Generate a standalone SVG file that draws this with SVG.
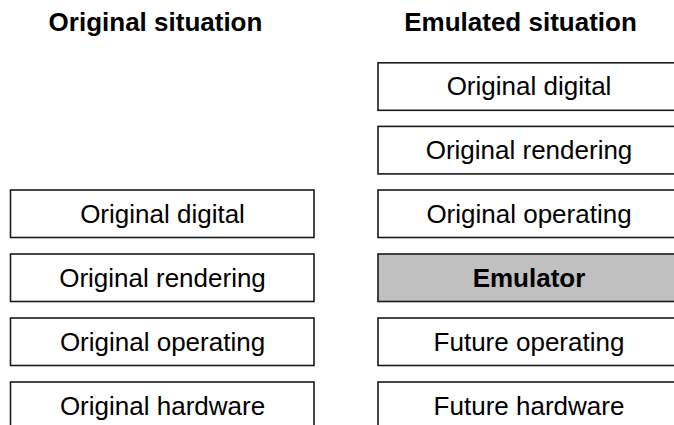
<svg xmlns="http://www.w3.org/2000/svg" width="674" height="425" viewBox="0 0 674 425">
  <style>
    .title { font-family: "Liberation Sans", Arial, sans-serif; font-weight: bold; font-size: 26px; fill: #000; text-anchor: middle; }
    .box { fill: #fff; stroke: #1a1a1a; stroke-width: 1.6; }
    .box.emu { fill: #c0c0c0; }
    .lbl { font-family: "Liberation Sans", Arial, sans-serif; font-size: 26px; fill: #000; text-anchor: middle; }
    .lbl.b { font-weight: bold; }
  </style>
  <rect width="674" height="425" fill="#fff"/>

  <!-- column headings -->
  <text class="title" x="155.5" y="31">Original situation</text>
  <text class="title" x="520.5" y="31">Emulated situation</text>

  <!-- original stack -->
  <g id="orig-digital"><rect class="box" x="10.5" y="190" width="303.5" height="47.5"/><text class="lbl" x="162.5" y="222.5">Original digital</text></g>
  <g id="orig-rendering"><rect class="box" x="10.5" y="254" width="303.5" height="47.5"/><text class="lbl" x="162.5" y="286.5">Original rendering</text></g>
  <g id="orig-operating"><rect class="box" x="10.5" y="318" width="303.5" height="47.5"/><text class="lbl" x="162.5" y="350.5">Original operating</text></g>
  <g id="orig-hardware"><rect class="box" x="10.5" y="382" width="303.5" height="47.5"/><text class="lbl" x="162.5" y="414.5">Original hardware</text></g>

  <!-- emulated stack -->
  <g id="emu-digital"><rect class="box" x="378" y="62.8" width="310" height="47.5"/><text class="lbl" x="529" y="95.3">Original digital</text></g>
  <g id="emu-rendering"><rect class="box" x="378" y="126.4" width="310" height="47.5"/><text class="lbl" x="529" y="158.9">Original rendering</text></g>
  <g id="emu-operating"><rect class="box" x="378" y="190" width="310" height="47.5"/><text class="lbl" x="529" y="222.5">Original operating</text></g>
  <g id="emulator"><rect class="box emu" x="378" y="254" width="310" height="47.5"/><text class="lbl b" x="529" y="286.5">Emulator</text></g>
  <g id="future-operating"><rect class="box" x="378" y="318" width="310" height="47.5"/><text class="lbl" x="529" y="350.5">Future operating</text></g>
  <g id="future-hardware"><rect class="box" x="378" y="382" width="310" height="47.5"/><text class="lbl" x="529" y="414.5">Future hardware</text></g>

  <g id="connectors"></g>
</svg>
